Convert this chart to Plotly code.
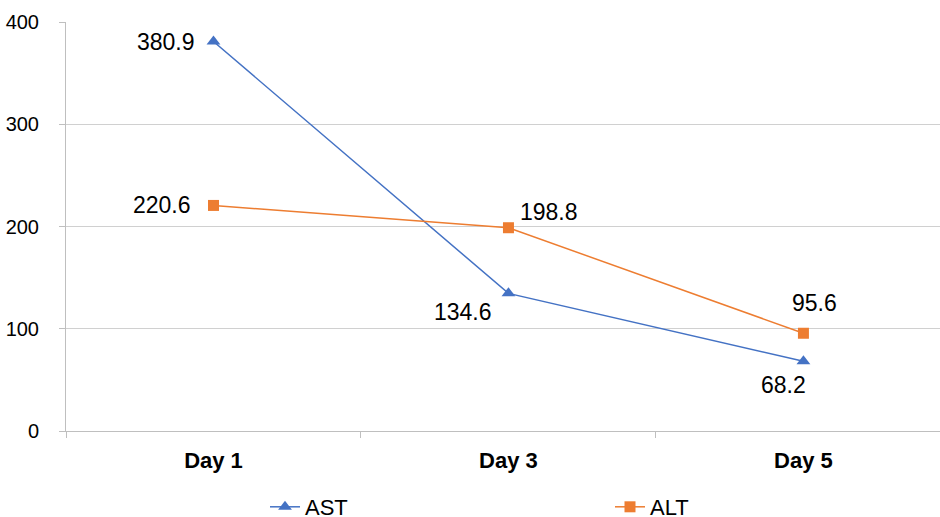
import plotly.graph_objects as go

days = ["Day 1", "Day 3", "Day 5"]
ast = [380.9, 134.6, 68.2]
alt = [220.6, 198.8, 95.6]
y_ticks = [0, 100, 200, 300, 400]

# label placement (anchor, xshift, yshift) per point
ast_lbl = [("right", -16, 0), ("right", -14, -19), ("center", -20, -24)]
alt_lbl = [("right", -20, 0), ("left", 10, 16), ("center", 11, 30)]

blue = "#4472C4"
orange = "#ED7D31"
font = "Liberation Sans, Arial, sans-serif"

fig = go.Figure()
fig.add_trace(go.Scatter(
    x=days, y=ast, name="AST", mode="lines+markers",
    line=dict(color=blue, width=1.5),
    marker=dict(symbol="triangle-up", size=12, color=blue),
    legend="legend", cliponaxis=False, showlegend=True,
))
fig.add_trace(go.Scatter(
    x=days, y=alt, name="ALT", mode="lines+markers",
    line=dict(color=orange, width=1.5),
    marker=dict(symbol="square", size=11, color=orange),
    legend="legend2", cliponaxis=False, showlegend=True,
))

for series, lbls in ((ast, ast_lbl), (alt, alt_lbl)):
    for d, v, (anc, xs, ys) in zip(days, series, lbls):
        fig.add_annotation(x=d, y=v, text=f"{v:.1f}", showarrow=False,
                           xanchor=anc, yanchor="middle", xshift=xs, yshift=ys,
                           font=dict(size=23, color="#000000", family=font))

leg_common = dict(orientation="h", xref="container", yref="container",
                  yanchor="middle", font=dict(size=22, family=font),
                  itemwidth=30, bgcolor="rgba(0,0,0,0)")

fig.update_layout(
    width=940, height=517, showlegend=True,
    margin=dict(l=66, r=0, t=22, b=86, autoexpand=False),
    paper_bgcolor="white", plot_bgcolor="white",
    font=dict(family=font, size=20, color="#000000"),
    legend=dict(x=265 / 940, y=1 - 507 / 517, xanchor="left", **leg_common),
    legend2=dict(x=610 / 940, y=1 - 507 / 517, xanchor="left", **leg_common),
    xaxis=dict(
        type="category", range=[-0.5, 2.463], showgrid=False,
        showline=True, linecolor="#BFBFBF", linewidth=1,
        ticks="outside", tickson="boundaries", ticklen=6, tickcolor="#BFBFBF",
        tickfont=dict(size=22, family=font, weight="bold"),
        ticklabelstandoff=10,
    ),
    yaxis=dict(
        range=[0, 400], tickvals=y_ticks, showgrid=True, gridcolor="#D0D0D0", gridwidth=1,
        showline=True, linecolor="#BFBFBF", linewidth=1,
        ticks="outside", ticklen=6, tickcolor="#BFBFBF",
        tickfont=dict(size=20, family=font), zeroline=False,
        ticklabelstandoff=16,
    ),
)
fig.write_html("out.html", config={"displayModeBar": False},
               post_script="document.body.style.margin='0';")
